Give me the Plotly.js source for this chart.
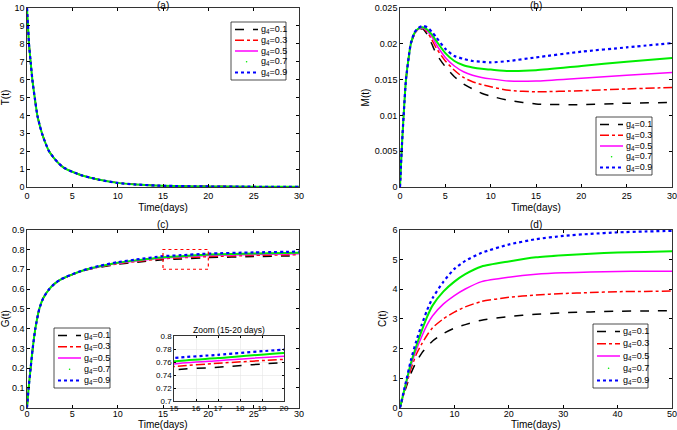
<!DOCTYPE html>
<html><head><meta charset="utf-8">
<script src="https://cdn.plot.ly/plotly-3.0.1.min.js"></script>
<style>html,body{margin:0;padding:0;background:#fff}#chart{width:677px;height:430px}</style>
</head><body><div id="chart"></div>
<script>
// ---------- data ----------
const seriesNames = ['g<sub>4</sub>=0.1','g<sub>4</sub>=0.3','g<sub>4</sub>=0.5','g<sub>4</sub>=0.7','g<sub>4</sub>=0.9'];
const panelTitles = ['(a)','(b)','(c)','(d)'];
const axisTitlesY = ['T(t)','M(t)','G(t)','C(t)'];
const axisTitleX = 'Time(days)';
const insetTitle = 'Zoom (15-20 days)';

// (a) T(t)
const tA = [0,0.05,0.11,0.22,0.4,0.59,0.85,1.14,1.4,1.65,2,2.43,3,3.5,4,5,6,7,8,10,12,15,20,25,30];
const T_01 = [10,9.5,9,8,7,6,5,4,3.45,3,2.5,2,1.6,1.32,1.1,0.85,0.66,0.52,0.4,0.23,0.14,0.07,0.03,0.015,0.01];
const T_03 = T_01, T_05 = T_01, T_07 = T_01, T_09 = T_01;

// (b) M(t)
const tB = [0,0.18,0.4,0.66,1,1.2,1.6,2,2.5,3,3.5,4,5,6,7,8,9,10,12,15,20,25,30];
const M_01 = [0,0.005,0.01,0.015,0.0185,0.02,0.0213,0.0219,0.0221,0.0213,0.0200,0.0186,0.0168,0.0154,0.0144,0.0137,0.0131,0.0127,0.0121,0.0116,0.0115,0.0117,0.0118];
const M_03 = [0,0.005,0.01,0.015,0.0185,0.02,0.0214,0.0220,0.0222,0.0216,0.0206,0.0194,0.0176,0.0163,0.0153,0.0147,0.0143,0.0140,0.0135,0.0133,0.01345,0.0137,0.0139];
const M_05 = [0,0.005,0.01,0.015,0.0185,0.02,0.0214,0.0220,0.0222,0.0218,0.0210,0.0199,0.0181,0.0169,0.0161,0.0156,0.0153,0.0151,0.0148,0.0148,0.0152,0.0156,0.0160];
const M_07 = [0,0.005,0.01,0.015,0.0185,0.02,0.0215,0.0221,0.0223,0.0220,0.0213,0.0204,0.0187,0.0176,0.0170,0.0167,0.0165,0.0164,0.0162,0.0163,0.0169,0.0175,0.0180];
const M_09 = [0,0.005,0.01,0.015,0.0185,0.0201,0.0216,0.0222,0.0225,0.0223,0.0217,0.0209,0.0193,0.0183,0.0179,0.0176,0.0175,0.0174,0.0176,0.0181,0.0189,0.0195,0.0201];

// (c) G(t)
const tC = [0,0.18,0.4,0.63,0.92,1.36,1.8,2.46,3,3.6,4.3,5,6,6.6,8,10,12,15,17,20,25,30];
const G_01 = [0,0.1,0.2,0.3,0.4,0.5,0.555,0.6,0.625,0.645,0.66,0.673,0.689,0.697,0.710,0.725,0.735,0.748,0.752,0.759,0.764,0.768];
const G_03 = [0,0.1,0.2,0.3,0.4,0.5,0.555,0.6,0.625,0.645,0.66,0.673,0.690,0.698,0.712,0.728,0.739,0.753,0.758,0.764,0.770,0.774];
const G_05 = [0,0.1,0.2,0.3,0.4,0.5,0.555,0.6,0.625,0.645,0.66,0.674,0.690,0.699,0.713,0.730,0.742,0.757,0.762,0.769,0.775,0.779];
const G_07 = [0,0.1,0.2,0.3,0.4,0.5,0.555,0.6,0.625,0.645,0.661,0.674,0.691,0.700,0.715,0.733,0.745,0.761,0.766,0.774,0.780,0.784];
const G_09 = [0,0.1,0.2,0.3,0.4,0.5,0.555,0.6,0.625,0.646,0.661,0.675,0.692,0.701,0.717,0.736,0.749,0.766,0.771,0.779,0.785,0.789];

// (d) C(t)
const tD = [0,1,2,3,4,5,6,8,10,12,15,20,25,30,35,40,45,50];
const C_01 = [0,0.62,1.15,1.55,1.84,2.06,2.25,2.5,2.68,2.8,2.95,3.07,3.15,3.2,3.23,3.25,3.26,3.27];
const C_03 = [0,0.66,1.3,1.8,2.15,2.45,2.7,3.0,3.22,3.4,3.58,3.72,3.8,3.85,3.88,3.91,3.92,3.93];
const C_05 = [0,0.72,1.42,1.95,2.4,2.8,3.1,3.5,3.78,4.0,4.25,4.4,4.5,4.55,4.57,4.59,4.6,4.6];
const C_07 = [0,0.76,1.5,2.08,2.6,3.07,3.45,3.92,4.25,4.5,4.76,4.93,5.07,5.14,5.19,5.23,5.25,5.27];
const C_09 = [0,0.8,1.6,2.25,2.8,3.3,3.7,4.25,4.68,4.95,5.22,5.5,5.68,5.79,5.86,5.91,5.94,5.96];

// ---------- styling ----------
const styles = [
  {color:'#000000', dash:'dash', width:1.5},
  {color:'#ff0000', dash:'dashdot', width:1.5},
  {color:'#ff00ff', dash:'solid', width:1.5},
  {color:'#00ee00', dash:'solid', width:2},
  {color:'#0000ff', dash:'dot', width:2.2}
];
const FONT = 'Liberation Sans, Arial, sans-serif';
const W=677,H=430;
const px = v=>v/W, py = v=>1-v/H;

const traces = [];
function addSet(t, ys, xa, ya){
  ys.forEach((y,i)=>{
    traces.push({x:t, y:y, xaxis:xa, yaxis:ya, type:'scatter', mode:'lines',
      name:seriesNames[i], line:Object.assign({shape:'spline', smoothing:0.6}, styles[i]),
      showlegend:false, hoverinfo:'skip'});
  });
}
addSet(tA,[T_01,T_03,T_05,T_07,T_09],'x','y');
addSet(tB,[M_01,M_03,M_05,M_07,M_09],'x2','y2');
addSet(tC,[G_01,G_03,G_05,G_07,G_09],'x3','y3');
addSet(tD,[C_01,C_03,C_05,C_07,C_09],'x4','y4');
addSet(tC,[G_01,G_03,G_05,G_07,G_09],'x5','y5');

function ax(d0,d1,range,dtick,extra){
  return Object.assign({domain:[d0,d1], range:range, dtick:dtick, tick0:0, ticks:'inside', ticklen:3,
    tickcolor:'#000', showline:true, linecolor:'#000', linewidth:0.8, mirror:'ticks',
    showgrid:false, zeroline:false, automargin:false, ticklabeloverflow:'allow',
    tickfont:{family:FONT,size:9,color:'#000'}}, extra||{});
}
const tx = (txt,s)=>({title:{text:txt, font:{family:FONT,size:10,color:'#000'}, standoff:s}});
const ty = txt=>({title:{text:txt, font:{family:FONT,size:10,color:'#000'}, standoff:3}});

const shapes = [{type:'rect', xref:'x3', yref:'y3', x0:15, x1:20, y0:0.7, y1:0.8,
    line:{color:'#ff0000', width:1.2, dash:'dot'}}];
const annotations = [];

// compact legends (box + samples + labels), positioned in paper pixels
function legendBox(x0,y0,w,h){
  shapes.push({type:'rect', xref:'paper', yref:'paper', x0:px(x0), x1:px(x0+w), y0:py(y0+h), y1:py(y0),
    line:{color:'#222', width:0.8}, fillcolor:'#fff', layer:'above'});
  const step=(h-15)/4;
  seriesNames.forEach((nm,i)=>{
    const yc = y0+7.5+i*step;
    if(i===3){
      shapes.push({type:'circle', xref:'paper', yref:'paper', x0:px(x0+14.8), x1:px(x0+16.4), y0:py(yc+0.8), y1:py(yc-0.8),
        line:{width:0}, fillcolor:styles[i].color, layer:'above'});
    } else {
      shapes.push({type:'line', xref:'paper', yref:'paper', x0:px(x0+4), x1:px(x0+27), y0:py(yc), y1:py(yc),
        line:{color:styles[i].color, width:styles[i].width, dash:styles[i].dash}, layer:'above'});
    }
    annotations.push({text:nm, xref:'paper', yref:'paper', x:px(x0+29), y:py(yc), xanchor:'left', yanchor:'middle',
      showarrow:false, borderpad:0, font:{family:FONT,size:9,color:'#000'}});
  });
}
legendBox(231,22,55,58);
legendBox(596,117,56,58);
legendBox(54,328,56,60);
legendBox(593,324,55,64);

const titlePos = [[163,6],[536,6],[163,224],[536,224]];
panelTitles.forEach((t,i)=>annotations.push({text:t, xref:'paper', yref:'paper', x:px(titlePos[i][0]), y:py(titlePos[i][1]),
  xanchor:'center', yanchor:'middle', showarrow:false, borderpad:0, font:{family:FONT,size:10,color:'#000'}}));
annotations.push({text:insetTitle, xref:'paper', yref:'paper', x:px(229), y:py(330), xanchor:'center', yanchor:'middle',
  showarrow:false, borderpad:0, font:{family:FONT,size:8.5,color:'#000'}});
// bottom-row x-axis titles (placed as text near the page bottom)
[[163,424.5],[536,424.5]].forEach(p=>annotations.push({text:axisTitleX, xref:'paper', yref:'paper', x:px(p[0]), y:py(p[1]),
  xanchor:'center', yanchor:'middle', showarrow:false, borderpad:0, font:{family:FONT,size:10,color:'#000'}}));

const layout = {
  width:W, height:H, margin:{l:0,r:0,t:0,b:0}, paper_bgcolor:'#fff', plot_bgcolor:'#fff',
  showlegend:false,
  xaxis: ax(px(27),px(299),[0,30],5,Object.assign({anchor:'y'},tx(axisTitleX,4))),
  yaxis: ax(py(187),py(8),[0,10],1,Object.assign({anchor:'x'},ty(axisTitlesY[0]))),
  xaxis2: ax(px(400),px(672),[0,30],5,Object.assign({anchor:'y2'},tx(axisTitleX,4))),
  yaxis2: ax(py(187),py(8),[0,0.025],0.005,Object.assign({anchor:'x2'},ty(axisTitlesY[1]))),
  xaxis3: ax(px(27),px(299),[0,30],5,{anchor:'y3', ticklabelstandoff:-2}),
  yaxis3: ax(py(407.7),py(229.7),[0,0.9],0.1,Object.assign({anchor:'x3'},ty(axisTitlesY[2]))),
  xaxis4: ax(px(400),px(672),[0,50],10,{anchor:'y4', ticklabelstandoff:-2}),
  yaxis4: ax(py(407.7),py(229.7),[0,6],1,Object.assign({anchor:'x4'},ty(axisTitlesY[3]))),
  xaxis5: ax(px(174),px(284),[15,20],1,{anchor:'y5', showgrid:true, gridcolor:'#e6e6e6', gridwidth:0.6, tickfont:{family:FONT,size:8,color:'#000'}, ticklen:2}),
  yaxis5: ax(py(401),py(336),[0.7,0.8],0.02,{anchor:'x5', tick0:0.7, showgrid:true, gridcolor:'#e6e6e6', gridwidth:0.6, tickfont:{family:FONT,size:8,color:'#000'}, ticklen:2}),
  shapes: shapes,
  annotations: annotations
};
Plotly.newPlot('chart', traces, layout, {staticPlot:true, displayModeBar:false});
</script>
</body></html>
